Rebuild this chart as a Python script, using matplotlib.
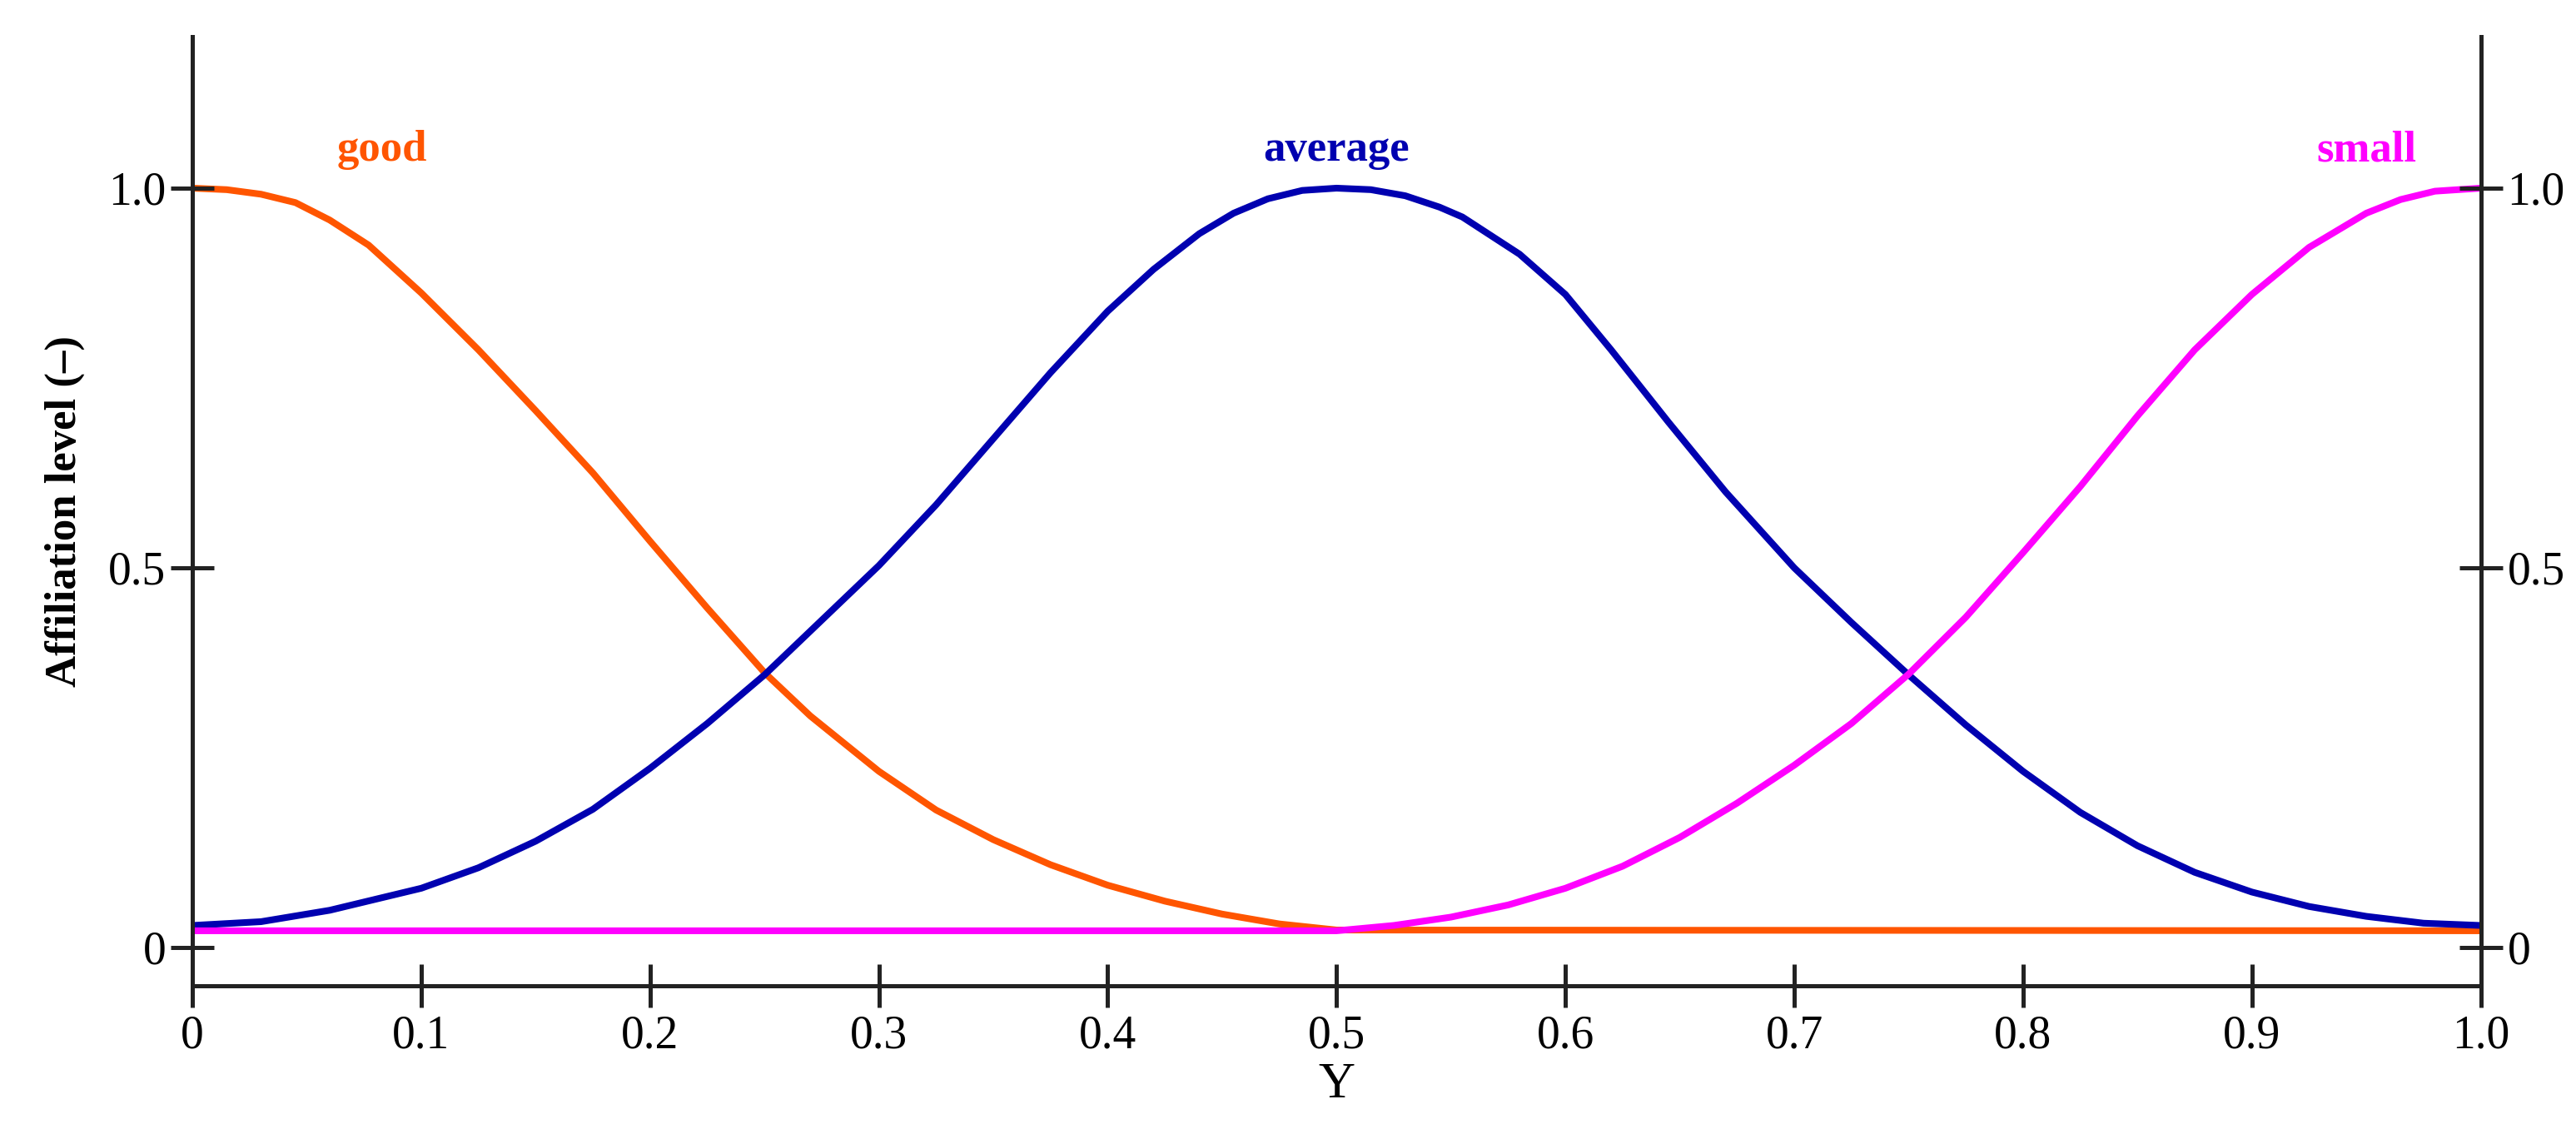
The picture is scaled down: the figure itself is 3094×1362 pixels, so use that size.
import matplotlib
matplotlib.use("Agg")
import matplotlib.pyplot as plt

# valeurs
good_x = [0, 0.015, 0.03, 0.045, 0.06, 0.077, 0.1, 0.125, 0.15, 0.175, 0.2, 0.225, 0.25,
          0.27, 0.3, 0.325, 0.35, 0.375, 0.4, 0.425, 0.45, 0.475, 0.5, 1.0]
good_y = [1.0, 0.998, 0.992, 0.981, 0.958, 0.925, 0.862, 0.787, 0.707, 0.625, 0.535, 0.447, 0.362,
          0.305, 0.232, 0.181, 0.142, 0.109, 0.082, 0.061, 0.044, 0.031, 0.023, 0.022]

average_x = [0, 0.03, 0.06, 0.1, 0.125, 0.15, 0.175, 0.2, 0.225, 0.25, 0.275, 0.3, 0.325,
             0.35, 0.375, 0.4, 0.42, 0.44, 0.455, 0.47, 0.485, 0.5, 0.515, 0.53, 0.545, 0.555,
             0.58, 0.6, 0.62, 0.645, 0.67, 0.7, 0.725, 0.75, 0.775, 0.8, 0.825, 0.85, 0.875,
             0.9, 0.925, 0.95, 0.975, 1.0]
average_y = [0.029, 0.034, 0.049, 0.078, 0.105, 0.14, 0.182, 0.236, 0.295, 0.359, 0.431, 0.503, 0.583,
             0.67, 0.757, 0.838, 0.893, 0.94, 0.967, 0.986, 0.997, 1.0, 0.998, 0.99, 0.975, 0.962,
             0.913, 0.86, 0.787, 0.692, 0.6, 0.5, 0.428, 0.359, 0.293, 0.232, 0.178, 0.134, 0.099,
             0.073, 0.054, 0.041, 0.032, 0.029]

small_x = [0, 0.5, 0.525, 0.55, 0.575, 0.6, 0.625, 0.65, 0.675, 0.7, 0.725, 0.75, 0.775,
           0.8, 0.825, 0.85, 0.875, 0.9, 0.925, 0.95, 0.965, 0.98, 1.0]
small_y = [0.022, 0.022, 0.029, 0.04, 0.056, 0.078, 0.107, 0.145, 0.19, 0.24, 0.295, 0.36, 0.435,
           0.52, 0.607, 0.7, 0.787, 0.86, 0.922, 0.967, 0.985, 0.996, 1.0]

x_ticks = [0, 0.1, 0.2, 0.3, 0.4, 0.5, 0.6, 0.7, 0.8, 0.9, 1.0]
x_labels = ["0", "0.1", "0.2", "0.3", "0.4", "0.5", "0.6", "0.7", "0.8", "0.9", "1.0"]
y_ticks = [0, 0.5, 1.0]
y_labels = ["0", "0.5", "1.0"]

plt.rcParams['font.family'] = ['Liberation Serif', 'DejaVu Serif']

fig = plt.figure(figsize=(15.47, 6.81), dpi=200)
ax = fig.add_axes([0.0747, 0.131, 0.8883, 0.837])

c_good = "#ff5500"
c_avg = "#0000b0"
c_small = "#ff00ff"

ax.plot(good_x, good_y, color=c_good, lw=2.9, solid_capstyle='butt', solid_joinstyle='round')
ax.plot(average_x, average_y, color=c_avg, lw=2.9, solid_capstyle='butt', solid_joinstyle='round')
ax.plot(small_x, small_y, color=c_small, lw=2.9, solid_capstyle='butt', solid_joinstyle='round')

ax.text(0.083, 1.05, "good", color=c_good, fontsize=19, fontweight='bold', ha='center', va='center')
ax.text(0.5, 1.05, "average", color=c_avg, fontsize=19, fontweight='bold', ha='center', va='center')
ax.text(0.95, 1.05, "small", color=c_small, fontsize=19, fontweight='bold', ha='center', va='center')

ax.set_xlim(0, 1.0)
ax.set_ylim(-0.05, 1.2)
ax.set_axisbelow(False)

ax.set_xticks(x_ticks)
ax.set_xticklabels(x_labels)
ax.set_yticks(y_ticks)
ax.set_yticklabels(y_labels)
ax.tick_params(axis='both', direction='inout', length=19, width=1.8, labelsize=20, colors='#222222')
ax.tick_params(axis='x', pad=3)
ax.tick_params(axis='y', pad=2)
for lab in ax.get_xticklabels() + ax.get_yticklabels():
    lab.set_color('black')

for s in ['left', 'right', 'bottom']:
    ax.spines[s].set_linewidth(1.8)
    ax.spines[s].set_color('#222222')
ax.spines['top'].set_visible(False)

ax2 = ax.twinx()
ax2.set_ylim(ax.get_ylim())
ax2.set_yticks(y_ticks)
ax2.set_yticklabels(y_labels)
ax2.tick_params(axis='y', direction='inout', length=19, width=1.8, labelsize=20, colors='#222222', pad=2)
for lab in ax2.get_yticklabels():
    lab.set_color('black')
ax2.spines['top'].set_visible(False)
ax2.spines['left'].set_visible(False)
ax2.spines['bottom'].set_visible(False)
ax2.spines['right'].set_linewidth(1.8)
ax2.spines['right'].set_color('#222222')

ax.set_xlabel("Y", fontsize=22, labelpad=2)
ax.set_ylabel("Affiliation level (\u2013)", fontsize=19, fontweight='bold', labelpad=10)

fig.savefig("out.png", dpi=200)
